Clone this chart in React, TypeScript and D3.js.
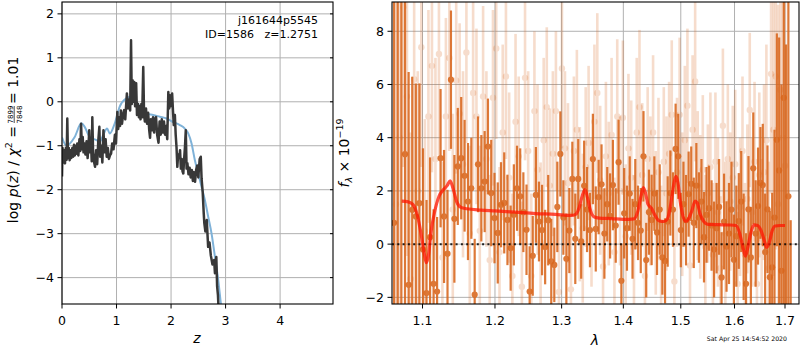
import React from "react";
import * as d3 from "d3";

// ---------- Left panel: log p(z) ----------
const pzZ = [0.000,0.010,0.025,0.040,0.055,0.070,0.085,0.097,0.110,0.125,0.140,0.155,0.170,0.190,0.205,0.220,0.235,0.250,0.265,0.280,0.300,0.320,0.335,0.350,0.365,0.380,0.395,0.410,0.430,0.450,0.470,0.485,0.500,0.515,0.530,0.545,0.556,0.570,0.590,0.606,0.625,0.645,0.665,0.685,0.700,0.720,0.740,0.760,0.780,0.800,0.820,0.840,0.860,0.880,0.900,0.920,0.945,0.970,0.990,1.015,1.030,1.050,1.065,1.080,1.100,1.120,1.140,1.160,1.190,1.210,1.230,1.250,1.266,1.280,1.295,1.310,1.325,1.340,1.360,1.375,1.395,1.410,1.425,1.440,1.455,1.470,1.490,1.505,1.520,1.540,1.560,1.580,1.600,1.615,1.630,1.650,1.670,1.690,1.705,1.725,1.745,1.770,1.790,1.810,1.830,1.850,1.870,1.890,1.910,1.930,1.950,1.965,1.980,1.995,2.020,2.035,2.050,2.070,2.085,2.100,2.115,2.130,2.150,2.165,2.180,2.195,2.210,2.225,2.240,2.255,2.270,2.285,2.300,2.320,2.340,2.360,2.380,2.400,2.420,2.440,2.460,2.480,2.500,2.525,2.545,2.560,2.580,2.600,2.610,2.630,2.655,2.680,2.705,2.730,2.760,2.790,2.805,2.830,2.845,2.860,2.875];
const pzLog = [-1.70,-1.05,-1.38,-1.10,-1.40,-1.05,-1.32,-0.38,-1.28,-1.05,-1.33,-1.10,-1.28,-1.05,-1.25,-0.98,-1.22,-1.00,-1.18,-0.95,-1.22,-0.85,-1.12,-0.50,-1.08,-0.80,-1.15,-0.95,-1.20,-0.90,-1.28,-1.00,-0.65,-1.15,-0.85,-1.35,-0.35,-1.15,-1.38,-1.48,-1.10,-1.42,-0.90,-0.57,-1.25,-1.00,-1.38,-0.65,-1.15,-0.85,-1.25,-1.05,-1.30,-1.22,-1.18,-0.95,-1.08,-0.75,-0.95,-0.23,-0.62,-0.35,-0.55,-0.20,-0.50,-0.30,-0.19,-0.40,0.19,-0.15,0.05,-0.20,1.40,-0.05,0.49,0.00,0.45,-0.10,0.42,-0.30,-0.05,-0.35,-0.10,-0.40,-0.05,-0.35,0.79,-0.30,-0.45,-0.15,-0.50,-0.25,-0.65,-0.82,-0.40,-0.65,-0.35,-0.70,-0.40,-0.35,-0.75,-0.93,-0.45,-0.75,-0.40,-0.70,-0.45,-0.75,-0.55,-0.85,0.22,-0.15,0.15,-0.10,0.19,-0.20,-0.53,-0.30,-0.75,-1.03,-1.48,-1.20,-1.28,-1.10,-1.52,-1.30,-1.58,-1.63,-1.30,-1.03,-0.65,-1.52,-1.40,-1.65,-1.50,-1.72,-1.55,-1.80,-1.60,-1.82,-1.55,-1.45,-1.72,-1.30,-1.25,-1.75,-2.05,-2.55,-2.76,-2.95,-2.69,-3.30,-3.20,-3.50,-3.70,-3.60,-3.90,-3.53,-4.20,-4.40,-4.80];

const priorZ = [0,0.08,0.233,0.355,0.416,0.508,0.631,0.692,0.753,0.827,0.876,0.968,1.059,1.182,1.255,1.335,1.427,1.549,1.672,1.794,1.917,2.039,2.162,2.253,2.315,2.376,2.437,2.498,2.560,2.621,2.682,2.743,2.805,2.866,2.915,2.96];
const priorLog = [-0.81,-1.0,-0.80,-0.49,-0.57,-0.80,-0.87,-0.91,-0.76,-0.61,-0.72,-0.49,-0.11,0.08,0.11,0.04,-0.11,-0.27,-0.30,-0.34,-0.38,-0.46,-0.53,-0.61,-0.72,-0.95,-1.33,-1.63,-1.94,-2.24,-2.62,-3.0,-3.53,-4.06,-4.6,-5.0];

const leftXTicks = [0, 1, 2, 3, 4];
const leftYTicks = [-4, -3, -2, -1, 0, 1, 2];

// ---------- Right panel: spectrum ----------
const darkStart = 1.063, darkStep = 0.0047;
const darkFlux = [0.8,-2.8,9.5,3.38,-1.53,1.29,1.04,1.54,-0.2,-1.84,
  0.26,-1.49,-1.78,3.23,1.04,-0.36,6.18,0.95,2.92,3.23,
  2.57,1.60,2.1,-1.9,3.0,2.1,2.35,3.67,1.92,0.98,
  0.42,1.48,1.55,0.91,-0.15,1.1,2.1,1.8,1.2,0.54,
  -1.78,-0.44,1.85,0.85,0.53,-0.11,0.9,-0.65,-0.78,1.4,
  3.39,1.0,-0.55,0.51,2.45,0.2,2.45,0.1,2.19,1.3,
  0.53,3.2,0.57,1.77,2.25,0.4,1.5,1.06,2.22,0.7,
  3.08,-1.38,1.16,0.6,1.9,0.2,1.5,0.8,0.51,3.3,
  -0.6,1.2,0.91,1.9,0.44,1.3,-0.5,-0.63,0.85,1.92,
  1.3,3.58,3.3,0.53,1.5,0.9,1.88,2.27,0.8,2.2,
  1.0,1.6,0.26,1.1,1.35,0.7,-0.2,0.6,1.4,-1.25,
  0.85,-0.09,0.4,1.3,-0.59,0.3,0.87,1.6,-0.1,-1.49,
  1.31,-0.5,2.85,0.4,1.43,2.3,2.22,-0.3,1.31,-1.24,
  -0.87,1.0,3.92,2.77,-1.0,5.5,-2.5,1.8,-3.5];
const darkErr = [14,14,14,9,8,5,5,4.5,3.8,3.5,
  3.0,2.8,2.8,2.6,2.5,2.4,2.6,2.4,2.2,2.3,
  2.1,2.2,1.9,2.1,1.8,2.0,1.9,1.8,2.0,1.7,
  1.9,1.6,1.9,1.7,1.6,1.9,1.6,1.8,1.5,1.7,
  1.7,1.5,1.8,1.5,1.7,1.4,1.7,1.6,1.4,1.7,
  1.6,1.4,1.7,1.6,1.4,1.7,1.5,1.4,1.7,1.6,
  1.4,1.7,1.6,1.4,1.5,1.7,1.4,1.6,1.7,1.4,
  1.6,1.4,1.7,1.6,1.4,1.5,1.7,1.4,1.6,1.7,
  1.4,1.6,1.7,1.4,1.6,1.7,1.4,1.6,1.7,1.6,
  1.4,1.7,1.6,1.4,1.6,1.7,1.6,1.4,1.7,1.6,
  1.7,1.6,1.7,1.8,1.6,1.7,1.8,1.7,1.8,1.7,
  1.8,1.7,1.9,1.8,1.7,1.9,1.8,1.9,2.0,1.9,
  2.0,1.9,2.1,2.0,2.2,2.1,2.3,2.2,2.4,2.5,
  2.8,3.3,4.0,5.0,7.0,9.0,10,8,4.4];

const lightStart = 1.0655, lightStep = 0.0047;
const lightFlux = [1.5,4.0,8.9,5.55,-1.3,6.2,2.0,7.4,0.5,4.8,
  6.7,3.2,7.15,-0.5,4.8,7.0,1.3,6.15,4.9,3.0,
  7.2,0.4,5.68,4.8,0.5,5.55,3.2,-0.6,5.5,7.35,
  -0.3,4.2,6.3,2.5,-1.2,4.6,3.3,-1.6,6.25,3.5,
  -1.2,5.0,2.8,0.07,3.9,5.15,2.2,3.4,5.0,-1.8,
  6.6,3.6,2.3,-1.7,3.5,4.3,1.5,0.6,2.9,3.8,
  1.2,4.6,5.68,2.4,-0.84,3.3,1.9,4.1,-0.3,4.8,
  2.0,4.75,0.3,3.6,2.5,-0.1,4.2,5.15,2.6,-1.2,
  3.2,2.0,4.2,0.8,2.7,-0.5,3.1,1.9,3.4,4.86,
  -1.4,2.7,4.86,1.5,3.9,5.2,-0.8,4.3,6.11,2.2,
  1.4,2.8,-0.1,1.9,2.9,-0.4,3.1,1.2,-0.9,4.45,
  0.4,3.2,1.6,2.5,3.0,-1.5,1.4,3.5,-0.4,1.7,
  5.04,1.2,3.1,-1.5,2.6,0.2,2.7,3.9,-0.9,6.4,
  4.3,6.3,1.5,5.8,4.0,2.95];
const lightErr = [9,8,6,6,5.5,5,4.5,4.5,4.2,4.0,
  4.0,3.8,3.8,3.6,3.7,3.5,3.6,3.5,3.4,3.5,
  3.4,3.3,3.5,3.3,3.2,3.4,3.3,3.2,3.3,3.4,
  3.2,3.3,3.1,3.2,3.1,3.3,3.0,3.2,3.1,3.0,
  3.1,3.0,3.2,3.0,3.1,3.0,2.9,3.1,3.0,2.9,
  3.0,2.9,3.0,2.9,2.8,3.0,2.9,2.8,3.0,2.9,
  2.8,2.9,3.0,2.8,2.9,2.8,2.7,2.9,2.8,2.9,
  2.8,2.9,2.7,2.8,2.9,2.7,2.8,2.9,2.7,2.8,
  2.7,2.8,2.9,2.7,2.8,2.7,2.8,2.9,2.7,2.8,
  2.7,2.8,2.9,2.7,2.8,2.9,2.7,2.8,3.0,2.8,
  2.7,2.8,2.7,2.6,2.8,2.7,2.6,2.8,2.7,2.9,
  2.7,2.8,2.6,2.7,2.8,2.7,2.6,2.8,2.7,2.8,
  2.9,2.8,3.0,2.9,3.1,3.0,3.3,3.6,4.0,4.5,
  5.5,6.5,7.5,8.0,8.0,7.0];

const modelLam = [1.073,1.080,1.087,1.093,1.098,1.102,1.105,1.108,1.111,1.116,1.122,1.128,1.133,1.137,1.141,1.146,1.152,1.160,1.180,1.200,1.230,1.260,1.290,1.315,1.322,1.328,1.333,1.337,1.341,1.346,1.352,1.360,1.380,1.400,1.418,1.424,1.430,1.434,1.438,1.442,1.448,1.455,1.462,1.470,1.476,1.482,1.487,1.491,1.495,1.499,1.504,1.509,1.514,1.520,1.526,1.530,1.535,1.542,1.550,1.570,1.590,1.603,1.610,1.616,1.621,1.626,1.632,1.638,1.645,1.652,1.658,1.663,1.668,1.674,1.680,1.690,1.700];
const modelFlux = [1.62,1.60,1.50,1.10,0.40,-0.30,-0.70,-0.40,0.40,1.20,1.80,2.05,2.20,2.38,2.10,1.60,1.38,1.33,1.28,1.25,1.20,1.15,1.12,1.08,1.12,1.40,1.85,2.05,1.75,1.25,1.02,0.98,0.96,0.93,0.95,1.20,1.80,2.12,1.90,1.50,1.35,1.05,0.87,0.85,0.95,1.50,2.20,2.55,2.30,1.60,1.05,0.85,0.95,1.25,1.62,1.55,1.15,0.85,0.74,0.73,0.72,0.70,0.40,-0.10,-0.45,-0.10,0.45,0.72,0.70,0.50,0.15,-0.12,0.05,0.50,0.68,0.70,0.70];

const rightXTicks = [1.1, 1.2, 1.3, 1.4, 1.5, 1.6, 1.7];
const rightYTicks = [-2, 0, 2, 4, 6, 8];

const FONT = "DejaVu Sans, Verdana, sans-serif";
const ORANGE = "#d9661c";

export default function App() {
  const xL = d3.scaleLinear().domain([0, 4.97]).range([62, 333]);
  const yL = d3.scaleLinear().domain([-4.6, 2.27]).range([304, 2]);
  const xR = d3.scaleLog().domain([1.0604, 1.7288]).range([392, 799]);
  const yR = d3.scaleLinear().domain([-2.25, 9.1]).range([304, 2]);

  const pzLine = d3.line<number>().x((_, i) => xL(pzZ[i])).y((d) => yL(d));
  const priorLine = d3.line<number>().x((_, i) => xL(priorZ[i])).y((d) => yL(d)).curve(d3.curveMonotoneX);
  const modelLine = d3.line<number>().x((_, i) => xR(modelLam[i])).y((d) => yR(d)).curve(d3.curveMonotoneX);

  const dark = darkFlux.map((f, i) => ({ l: darkStart + i * darkStep, f, e: darkErr[i] }));
  const light = lightFlux.map((f, i) => ({ l: lightStart + i * lightStep, f, e: lightErr[i] }));

  const tick = 4.5;
  const [lx0, lx1] = xL.range();
  const [ly0, ly1] = yL.range();
  const [rx0, rx1] = xR.range();
  const [ry0, ry1] = yR.range();

  return (
    <svg width={800} height={350} style={{ position: "absolute", left: 0, top: 0, background: "#fff" }} fontFamily={FONT}>
      <defs>
        <clipPath id="clipL"><rect x={lx0} y={ly1} width={lx1 - lx0} height={ly0 - ly1} /></clipPath>
        <clipPath id="clipR"><rect x={rx0} y={ry1} width={rx1 - rx0} height={ry0 - ry1} /></clipPath>
      </defs>
      <rect width={800} height={350} fill="#fff" />

      {/* ---------- LEFT PANEL ---------- */}
      <g>
        {leftXTicks.map((t) => (
          <line key={"gx" + t} x1={xL(t)} x2={xL(t)} y1={ly1} y2={ly0} stroke="#b0b0b0" strokeWidth={1} />
        ))}
        {leftYTicks.map((t) => (
          <line key={"gy" + t} x1={lx0} x2={lx1} y1={yL(t)} y2={yL(t)} stroke="#b0b0b0" strokeWidth={1} />
        ))}
        <g clipPath="url(#clipL)">
          <path d={priorLine(priorLog) || ""} fill="none" stroke="#7fb2d8" strokeWidth={2} />
          <path d={pzLine(pzLog) || ""} fill="none" stroke="#383838" strokeWidth={2.5} strokeLinejoin="round" />
        </g>
        <rect x={lx0} y={ly1} width={lx1 - lx0} height={ly0 - ly1} fill="none" stroke="#000" strokeWidth={1.1} />
        {leftXTicks.map((t) => (
          <g key={"tx" + t}>
            <line x1={xL(t)} x2={xL(t)} y1={ly0} y2={ly0 + tick} stroke="#000" />
            <text x={xL(t)} y={325} fontSize={12.5} textAnchor="middle">{t}</text>
          </g>
        ))}
        {leftYTicks.map((t) => (
          <g key={"ty" + t}>
            <line x1={lx0 - tick} x2={lx0} y1={yL(t)} y2={yL(t)} stroke="#000" />
            <line x1={lx1 - 3} x2={lx1} y1={yL(t)} y2={yL(t)} stroke="#000" />
            <text x={lx0 - 8} y={yL(t)} dy="0.35em" fontSize={12.5} textAnchor="end">{t < 0 ? "\u2212" + Math.abs(t) : t}</text>
          </g>
        ))}
        <text x={318} y={24} fontSize={11} textAnchor="end">j161644p5545</text>
        <text x={318} y={38} fontSize={11} textAnchor="end" style={{ whiteSpace: "pre" }}>{"ID=1586   z=1.2751"}</text>
        <text x={197} y={343} fontSize={14} textAnchor="middle" fontStyle="italic">z</text>
        <g transform="translate(18,153) rotate(-90)" fontSize={14}>
          <text x={27} y={0} textAnchor="end">
            log <tspan fontStyle="italic">p</tspan>(<tspan fontStyle="italic">z</tspan>) / <tspan fontStyle="italic">χ</tspan>
            <tspan fontSize={9.5} dy={-6}>2</tspan><tspan dy={6}> =</tspan>
          </text>
          <text x={38.5} y={-5.5} fontSize={7} textAnchor="middle">7899</text>
          <line x1={30} x2={47} y1={-3.8} y2={-3.8} stroke="#000" strokeWidth={0.7} />
          <text x={38.5} y={3.8} fontSize={7} textAnchor="middle">7848</text>
          <text x={49} y={0} textAnchor="start">= 1.01</text>
        </g>
      </g>

      {/* ---------- RIGHT PANEL ---------- */}
      <g>
        {rightXTicks.map((t) => (
          <line key={"rgx" + t} x1={xR(t)} x2={xR(t)} y1={ry1} y2={ry0} stroke="#b0b0b0" strokeWidth={1} />
        ))}
        {rightYTicks.map((t) => (
          <line key={"rgy" + t} x1={rx0} x2={rx1} y1={yR(t)} y2={yR(t)} stroke="#b0b0b0" strokeWidth={1} />
        ))}
        <g clipPath="url(#clipR)">
          {light.map((d, i) => (
            <g key={"l" + i} opacity={0.22}>
              <line x1={xR(d.l)} x2={xR(d.l)} y1={yR(d.f - d.e)} y2={yR(d.f + d.e)} stroke={ORANGE} strokeWidth={2.6} />
              <circle cx={xR(d.l)} cy={yR(d.f)} r={3.2} fill={ORANGE} />
            </g>
          ))}
          {dark.map((d, i) => (
            <g key={"d" + i} opacity={0.88}>
              <line x1={xR(d.l)} x2={xR(d.l)} y1={yR(d.f - d.e)} y2={yR(d.f + d.e)} stroke={ORANGE} strokeWidth={2.2} />
              <circle cx={xR(d.l)} cy={yR(d.f)} r={3.1} fill={ORANGE} />
            </g>
          ))}
          <line x1={rx0} x2={rx1} y1={yR(0)} y2={yR(0)} stroke="#000" strokeOpacity={0.85} strokeWidth={2} strokeDasharray="2,3.3" />
          <path d={modelLine(modelFlux) || ""} fill="none" stroke="#ff1400" strokeOpacity={0.75} strokeWidth={3.2} strokeLinejoin="round" />
        </g>
        <rect x={rx0} y={ry1} width={rx1 - rx0} height={ry0 - ry1} fill="none" stroke="#000" strokeWidth={1.1} />
        {rightXTicks.map((t) => (
          <g key={"rtx" + t}>
            <line x1={xR(t)} x2={xR(t)} y1={ry0} y2={ry0 + tick} stroke="#000" />
            <text x={xR(t)} y={325} fontSize={12.5} textAnchor="middle">{t.toFixed(1)}</text>
          </g>
        ))}
        {rightYTicks.map((t) => (
          <g key={"rty" + t}>
            <line x1={rx0 - tick} x2={rx0} y1={yR(t)} y2={yR(t)} stroke="#000" />
            <text x={rx0 - 8} y={yR(t)} dy="0.35em" fontSize={12.5} textAnchor="end">{t < 0 ? "\u2212" + Math.abs(t) : t}</text>
          </g>
        ))}
        <text x={595} y={345} fontSize={14} textAnchor="middle" fontStyle="italic">λ</text>
        <g transform="translate(349,153) rotate(-90)" fontSize={14}>
          <text x={0} y={0} textAnchor="middle">
            <tspan fontStyle="italic">f</tspan>
            <tspan fontSize={9.5} fontStyle="italic" dy={3}>λ</tspan>
            <tspan dy={-3}> × 10</tspan>
            <tspan fontSize={9.5} dy={-6}>−19</tspan>
          </text>
        </g>
        <text x={787} y={341} fontSize={6.2} textAnchor="end">Sat Apr 25 14:54:52 2020</text>
      </g>
    </svg>
  );
}
